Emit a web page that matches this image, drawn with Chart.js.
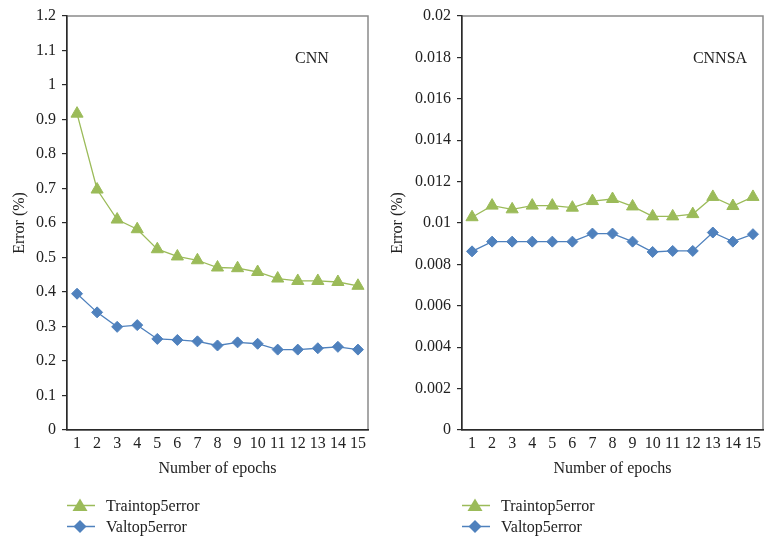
<!DOCTYPE html>
<html>
<head>
<meta charset="utf-8">
<script src="https://cdn.jsdelivr.net/npm/chart.js@4.4.1/dist/chart.umd.min.js"></script>
<style>
  html, body { margin: 0; padding: 0; background: #fff; }
  body { width: 774px; height: 545px; position: relative; overflow: hidden; font-family: "Liberation Serif", "DejaVu Serif", serif; color: #222; }
  .wrap { position: absolute; top: 0; width: 387px; height: 545px; }
  .note { position: absolute; font-size: 16px; line-height: 16px; transform: translate(-50%, -50%); white-space: nowrap; }
  .legend { position: absolute; font-size: 16px; }
  .legend .row { display: flex; align-items: center; height: 21px; }
  .legend svg { display: block; margin-right: 11px; }
</style>
</head>
<body>
<div class="wrap" style="left:0"><canvas id="c1" width="387" height="545"></canvas></div>
<div class="wrap" style="left:387px"><canvas id="c2" width="387" height="545"></canvas></div>
<div class="note" style="left:312px; top:58px">CNN</div>
<div class="note" style="left:720px; top:58px">CNNSA</div>
<div class="legend" id="lg1" style="left:67px; top:495px"></div>
<div class="legend" id="lg2" style="left:462px; top:495px"></div>
<script>
// ---- data ----
const epochs = ['1','2','3','4','5','6','7','8','9','10','11','12','13','14','15'];
const seriesNames = ['Traintop5error', 'Valtop5error'];
const cnnTrain = [0.917, 0.697, 0.610, 0.582, 0.524, 0.503, 0.492, 0.471, 0.469, 0.458, 0.439, 0.432, 0.432, 0.429, 0.418];
const cnnVal   = [0.395, 0.341, 0.299, 0.304, 0.264, 0.261, 0.257, 0.245, 0.254, 0.250, 0.233, 0.233, 0.237, 0.241, 0.233];
const cnnsaTrain = [0.01028, 0.01084, 0.01066, 0.01084, 0.01084, 0.01074, 0.01106, 0.01116, 0.01080, 0.01032, 0.01032, 0.01043, 0.01126, 0.01082, 0.01126];
const cnnsaVal   = [0.00863, 0.00910, 0.00910, 0.00910, 0.00910, 0.00910, 0.00949, 0.00949, 0.00910, 0.00860, 0.00865, 0.00865, 0.00954, 0.00910, 0.00946];
const cnnYTicks = ['0','0.1','0.2','0.3','0.4','0.5','0.6','0.7','0.8','0.9','1','1.1','1.2'];
const cnnsaYTicks = ['0','0.002','0.004','0.006','0.008','0.01','0.012','0.014','0.016','0.018','0.02'];

const GREEN = '#9bbb59';
const BLUE = '#4f81bd';
const FONT = { family: '"Liberation Serif", "DejaVu Serif", serif', size: 16 };

const framePlugin = {
  id: 'frame',
  beforeDraw(chart) {
    const a = chart.chartArea, ctx = chart.ctx;
    ctx.save();
    ctx.strokeStyle = '#8a8a8a';
    ctx.lineWidth = 1.5;
    ctx.strokeRect(a.left, a.top, a.right - a.left, a.bottom - a.top);
    ctx.restore();
  }
};

function makeChart(id, train, val, yTicks, yMax, step, yWidth, padRight, titlePad) {
  return new Chart(document.getElementById(id), {
    type: 'line',
    data: {
      labels: epochs,
      datasets: [
        { label: seriesNames[0], data: train, borderColor: GREEN, backgroundColor: GREEN,
          borderWidth: 1.3, pointStyle: 'triangle', pointRadius: 7, pointBorderWidth: 1,
          pointBackgroundColor: GREEN, pointBorderColor: GREEN, tension: 0 },
        { label: seriesNames[1], data: val, borderColor: BLUE, backgroundColor: BLUE,
          borderWidth: 1.3, pointStyle: 'rectRot', pointRadius: 5.5, pointBorderWidth: 1,
          pointBackgroundColor: BLUE, pointBorderColor: BLUE, tension: 0 }
      ]
    },
    options: {
      responsive: false,
      animation: false,
      layout: { padding: { left: 0, top: 16, right: padRight, bottom: 55 } },
      plugins: { legend: { display: false }, tooltip: { enabled: false } },
      scales: {
        x: {
          offset: true,
          grid: { display: false, drawTicks: false },
          border: { display: true, color: '#2a2a2a', width: 1.5 },
          ticks: { color: '#222', font: FONT, padding: 4, autoSkip: false, maxRotation: 0 },
          title: { display: true, text: 'Number of epochs', color: '#222', font: FONT, padding: { top: 0, bottom: 12 } },
          afterFit(s) { s.height = 60; }
        },
        y: {
          min: 0, max: yMax,
          grid: { display: true, drawOnChartArea: false, drawTicks: true, tickLength: 5, color: '#2a2a2a', lineWidth: 1.2 },
          border: { display: true, color: '#2a2a2a', width: 1.5 },
          ticks: { stepSize: step, color: '#222', font: FONT, padding: 6,
                   callback: (v, i) => yTicks[i] },
          title: { display: true, text: 'Error (%)', color: '#222', font: FONT, padding: { top: titlePad, bottom: 0 } },
          afterFit(s) { s.width = yWidth; }
        }
      }
    },
    plugins: [framePlugin]
  });
}

makeChart('c1', cnnTrain, cnnVal, cnnYTicks, 1.2, 0.1, 67, 19, 10);
makeChart('c2', cnnsaTrain, cnnsaVal, cnnsaYTicks, 0.02, 0.002, 75, 11, 1);

function icon(color, shape) {
  const m = shape === 'tri'
    ? `<polygon points="13,2.5 20.5,15 5.5,15" fill="${color}"/>`
    : `<polygon points="13,3 19.5,9.5 13,16 6.5,9.5" fill="${color}"/>`;
  return `<svg width="28" height="19" viewBox="0 0 28 19"><line x1="0" y1="9.5" x2="28" y2="9.5" stroke="${color}" stroke-width="1.5"/>${m}</svg>`;
}
for (const id of ['lg1', 'lg2']) {
  document.getElementById(id).innerHTML =
    `<div class="row">${icon(GREEN, 'tri')}<span>${seriesNames[0]}</span></div>` +
    `<div class="row">${icon(BLUE, 'dia')}<span>${seriesNames[1]}</span></div>`;
}
</script>
</body>
</html>
